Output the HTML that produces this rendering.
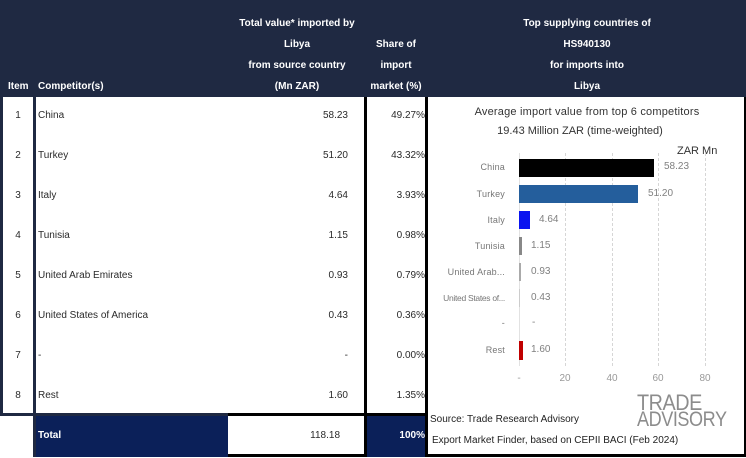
<!DOCTYPE html>
<html>
<head>
<meta charset="utf-8">
<style>
  html,body{margin:0;padding:0;}
  body{width:746px;height:458px;position:relative;overflow:hidden;background:#fff;font-family:"Liberation Sans",sans-serif;}
  .a{position:absolute;white-space:nowrap;}
  .hd{position:absolute;left:0;top:0;width:746px;height:97px;background:#1f2942;}
  .ht{position:absolute;color:#fff;font-weight:bold;font-size:10px;line-height:12px;height:12px;white-space:nowrap;}
  .c{text-align:center;}
  .bt{position:absolute;color:#2a2a2a;font-size:10px;line-height:12px;height:12px;white-space:nowrap;}
  .r{text-align:right;}
  .cl{position:absolute;color:#777;font-size:9px;line-height:12px;height:12px;text-align:right;width:90px;left:415px;letter-spacing:0.2px;white-space:nowrap;}
  .vl{position:absolute;color:#808080;font-size:10px;line-height:12px;height:12px;white-space:nowrap;}
  .tk{position:absolute;color:#999;font-size:10px;line-height:12px;height:12px;width:30px;text-align:center;}
  .bar{position:absolute;}
</style>
</head>
<body>
<!-- header -->
<div class="hd"></div>
<div class="ht c" style="left:220px;width:154px;top:18px;">Total value* imported by</div>
<div class="ht c" style="left:220px;width:154px;top:39px;">Libya</div>
<div class="ht c" style="left:220px;width:154px;top:60px;">from source country</div>
<div class="ht c" style="left:220px;width:154px;top:81px;">(Mn ZAR)</div>
<div class="ht" style="left:8px;top:81px;">Item</div>
<div class="ht" style="left:38px;top:81px;">Competitor(s)</div>
<div class="ht c" style="left:366px;width:60px;top:39px;">Share of</div>
<div class="ht c" style="left:366px;width:60px;top:60px;">import</div>
<div class="ht c" style="left:366px;width:60px;top:81px;">market (%)</div>
<div class="ht c" style="left:487px;width:200px;top:18px;">Top supplying countries of</div>
<div class="ht c" style="left:487px;width:200px;top:39px;">HS940130</div>
<div class="ht c" style="left:487px;width:200px;top:60px;">for imports into</div>
<div class="ht c" style="left:487px;width:200px;top:81px;">Libya</div>

<!-- table borders -->
<div class="a" style="left:0;top:97px;width:3px;height:319px;background:#1f2942;"></div>
<div class="a" style="left:33px;top:97px;width:3px;height:360px;background:#1f2942;"></div>
<div class="a" style="left:0;top:413px;width:228px;height:3px;background:#1f2942;"></div>
<div class="a" style="left:364px;top:97px;width:3px;height:360px;background:#000;"></div>
<div class="a" style="left:228px;top:413px;width:138px;height:3px;background:#000;"></div>
<div class="a" style="left:228px;top:454px;width:138px;height:3px;background:#000;"></div>
<div class="a" style="left:367px;top:413px;width:58px;height:3px;background:#000;"></div>

<!-- total row -->
<div class="a" style="left:36px;top:416px;width:192px;height:41px;background:#0b2059;"></div>
<div class="a" style="left:367px;top:416px;width:58px;height:41px;background:#0b2059;"></div>
<div class="ht" style="left:38px;top:430px;">Total</div>
<div class="bt r" style="left:260px;width:80px;top:430px;">118.18</div>
<div class="ht r" style="left:370px;width:55px;top:430px;">100%</div>

<!-- rows -->
<div class="bt c" style="left:3px;width:30px;top:110px;">1</div>
<div class="bt" style="left:38px;top:110px;">China</div>
<div class="bt r" style="left:268px;width:80px;top:110px;">58.23</div>
<div class="bt r" style="left:367px;width:58px;top:110px;">49.27%</div>

<div class="bt c" style="left:3px;width:30px;top:150px;">2</div>
<div class="bt" style="left:38px;top:150px;">Turkey</div>
<div class="bt r" style="left:268px;width:80px;top:150px;">51.20</div>
<div class="bt r" style="left:367px;width:58px;top:150px;">43.32%</div>

<div class="bt c" style="left:3px;width:30px;top:190px;">3</div>
<div class="bt" style="left:38px;top:190px;">Italy</div>
<div class="bt r" style="left:268px;width:80px;top:190px;">4.64</div>
<div class="bt r" style="left:367px;width:58px;top:190px;">3.93%</div>

<div class="bt c" style="left:3px;width:30px;top:230px;">4</div>
<div class="bt" style="left:38px;top:230px;">Tunisia</div>
<div class="bt r" style="left:268px;width:80px;top:230px;">1.15</div>
<div class="bt r" style="left:367px;width:58px;top:230px;">0.98%</div>

<div class="bt c" style="left:3px;width:30px;top:270px;">5</div>
<div class="bt" style="left:38px;top:270px;">United Arab Emirates</div>
<div class="bt r" style="left:268px;width:80px;top:270px;">0.93</div>
<div class="bt r" style="left:367px;width:58px;top:270px;">0.79%</div>

<div class="bt c" style="left:3px;width:30px;top:310px;">6</div>
<div class="bt" style="left:38px;top:310px;">United States of America</div>
<div class="bt r" style="left:268px;width:80px;top:310px;">0.43</div>
<div class="bt r" style="left:367px;width:58px;top:310px;">0.36%</div>

<div class="bt c" style="left:3px;width:30px;top:350px;">7</div>
<div class="bt" style="left:38px;top:350px;">-</div>
<div class="bt r" style="left:268px;width:80px;top:350px;">-</div>
<div class="bt r" style="left:367px;width:58px;top:350px;">0.00%</div>

<div class="bt c" style="left:3px;width:30px;top:390px;">8</div>
<div class="bt" style="left:38px;top:390px;">Rest</div>
<div class="bt r" style="left:268px;width:80px;top:390px;">1.60</div>
<div class="bt r" style="left:367px;width:58px;top:390px;">1.35%</div>

<!-- chart panel -->
<div class="a" style="left:425px;top:97px;width:3px;height:360px;background:#000;"></div>
<div class="a" style="left:425px;top:454px;width:321px;height:3px;background:#000;"></div>
<div class="a" style="left:744px;top:97px;width:2px;height:360px;background:#000;"></div>

<div class="a" style="left:447px;width:280px;text-align:center;top:106px;font-size:11px;line-height:13px;color:#333;letter-spacing:0.2px;">Average import value from top 6 competitors</div>
<div class="a" style="left:440px;width:280px;text-align:center;top:125px;font-size:11px;line-height:13px;color:#333;">19.43 Million ZAR (time-weighted)</div>
<div class="a" style="left:677px;top:145px;font-size:11px;line-height:13px;color:#333;">ZAR Mn</div>

<!-- gridlines -->
<div class="a" style="left:519px;top:153px;width:1px;height:213px;background:#e2e2e2;"></div>
<div class="a" style="left:565px;top:153px;width:0;height:213px;border-left:1px dashed #d6d6d6;"></div>
<div class="a" style="left:612px;top:153px;width:0;height:213px;border-left:1px dashed #d6d6d6;"></div>
<div class="a" style="left:658px;top:153px;width:0;height:213px;border-left:1px dashed #d6d6d6;"></div>
<div class="a" style="left:705px;top:153px;width:0;height:213px;border-left:1px dashed #d6d6d6;"></div>

<!-- bars -->
<div class="bar" style="left:519px;top:159px;width:135px;height:18px;background:#000;"></div>
<div class="bar" style="left:519px;top:185px;width:119px;height:18px;background:#245e9c;"></div>
<div class="bar" style="left:519px;top:211px;width:11px;height:18px;background:#0a14f0;"></div>
<div class="bar" style="left:519px;top:237px;width:3px;height:18px;background:#888;"></div>
<div class="bar" style="left:519px;top:263px;width:2px;height:18px;background:#aaa;"></div>
<div class="bar" style="left:519px;top:289px;width:1px;height:18px;background:#ccc;"></div>
<div class="bar" style="left:519px;top:341px;width:4px;height:19px;background:#c00000;"></div>

<!-- category labels -->
<div class="cl" style="top:161px;">China</div>
<div class="cl" style="top:188px;">Turkey</div>
<div class="cl" style="top:214px;">Italy</div>
<div class="cl" style="top:240px;">Tunisia</div>
<div class="cl" style="top:266px;">United Arab...</div>
<div class="cl" style="top:292px;left:405px;width:100px;letter-spacing:-0.3px;font-size:8.5px;">United States of...</div>
<div class="cl" style="top:317px;">-</div>
<div class="cl" style="top:344px;">Rest</div>

<!-- value labels -->
<div class="vl" style="left:664px;top:161px;">58.23</div>
<div class="vl" style="left:648px;top:188px;">51.20</div>
<div class="vl" style="left:539px;top:214px;">4.64</div>
<div class="vl" style="left:531px;top:240px;">1.15</div>
<div class="vl" style="left:531px;top:266px;">0.93</div>
<div class="vl" style="left:531px;top:292px;">0.43</div>
<div class="vl" style="left:532px;top:317px;">-</div>
<div class="vl" style="left:531px;top:344px;">1.60</div>

<!-- ticks -->
<div class="tk" style="left:504px;top:373px;">-</div>
<div class="tk" style="left:550px;top:373px;">20</div>
<div class="tk" style="left:597px;top:373px;">40</div>
<div class="tk" style="left:643px;top:373px;">60</div>
<div class="tk" style="left:690px;top:373px;">80</div>

<!-- sources -->
<div class="a" style="left:430px;top:414px;font-size:10px;line-height:12px;color:#222;">Source: Trade Research Advisory</div>
<div class="a" style="left:432px;top:435px;font-size:10px;line-height:12px;color:#222;">Export Market Finder, based on CEPII BACI (Feb 2024)</div>

<!-- logo -->
<div class="a" style="left:637px;top:393px;font-size:22px;line-height:20px;color:#8c8c8c;transform-origin:0 0;transform:scaleX(0.9);letter-spacing:-0.5px;">TRADE</div>
<div class="a" style="left:637px;top:410px;font-size:21px;line-height:20px;color:#8c8c8c;transform-origin:0 0;transform:scaleX(0.86);letter-spacing:-0.5px;">ADVISORY</div>
</body>
</html>
